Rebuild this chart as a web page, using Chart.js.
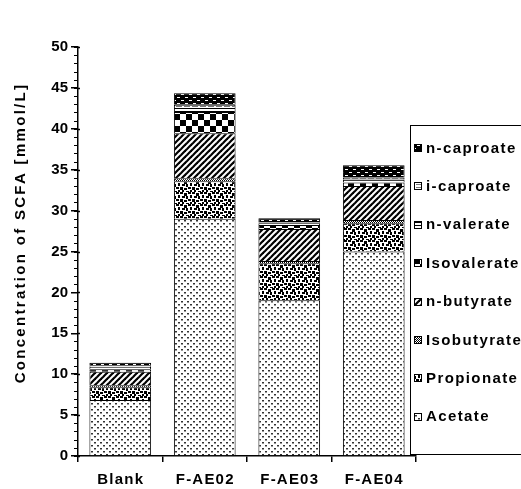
<!DOCTYPE html>
<html>
<head>
<meta charset="utf-8">
<script src="https://cdn.jsdelivr.net/npm/chart.js@4/dist/chart.umd.min.js"></script>
<style>
html,body{margin:0;padding:0;background:#fff;}
#wrap{width:521px;height:489px;position:relative;}
</style>
</head>
<body>
<div id="wrap"><canvas id="c" width="521" height="489"></canvas></div>
<script>
// ---- data ----
const categories = ['Blank', 'F-AE02', 'F-AE03', 'F-AE04'];
const acetate     = [6.85, 29.0, 19.05, 25.0];
const propionate  = [1.55, 4.6, 4.5, 3.45];
const isobutyrate = [0.25, 0.35, 0.3, 0.4];
const nButyrate   = [1.65, 5.5, 3.9, 4.15];
const isovalerate = [0.3, 2.6, 0.5, 0.45];
const nValerate   = [0.3, 0.5, 0.2, 0.35];
const iCaproate   = [0.2, 0.4, 0.1, 0.25];
const nCaproate   = [0.3, 1.4, 0.5, 1.5];
const seriesNames = ['Acetate', 'Propionate', 'Isobutyrate', 'n-butyrate', 'Isovalerate', 'n-valerate', 'i-caproate', 'n-caproate'];
const yTicks = [0, 5, 10, 15, 20, 25, 30, 35, 40, 45, 50];
const yTitle = 'Concentration of SCFA [mmol/L]';

// ---- patterns ----
function tile(w, h, draw) {
  const c = document.createElement('canvas');
  c.width = w; c.height = h;
  const g = c.getContext('2d');
  g.fillStyle = '#fff'; g.fillRect(0, 0, w, h);
  g.fillStyle = '#000'; g.strokeStyle = '#000';
  draw(g);
  return document.getElementById('c').getContext('2d').createPattern(c, 'repeat');
}
const pAcetate = tile(6, 6, g => { g.fillStyle = '#333'; g.fillRect(1, 1, 2, 1); g.fillRect(4, 4, 2, 1); g.fillStyle='#999'; g.fillRect(1,2,2,1); g.fillRect(4,5,2,1); });
const pPropionate = tile(12, 12, g => {
  [[0,0,3,2],[4,1,3,3],[8,0,3,2],[2,4,3,2],[6,4,2,3],[10,3,2,3],[0,7,3,3],[4,8,3,2],[8,7,3,2],[2,10,2,2],[6,11,3,1],[10,10,2,2]]
    .forEach(r => g.fillRect(r[0], r[1], r[2], r[3]));
});
const pIsobutyrate = tile(2, 2, g => { g.fillRect(0, 0, 1, 1); g.fillRect(1, 1, 1, 1); });
const pButyrate = tile(6, 6, g => {
  g.lineWidth = 2.2;
  [[-1, 7, 7, -1], [-1, 1, 1, -1], [5, 7, 7, 5]].forEach(l => { g.beginPath(); g.moveTo(l[0], l[1]); g.lineTo(l[2], l[3]); g.stroke(); });
});
const pIsovalerate = tile(12, 12, g => { g.fillRect(0, 0, 6, 6); g.fillRect(6, 6, 6, 6); });
const pValerate = tile(4, 3, g => { g.fillRect(0, 0, 4, 1); });
const pICaproate = tile(8, 3, g => { g.fillStyle = '#777'; g.fillRect(0, 1, 6, 1); });
const pNCaproate = tile(8, 6, g => { g.fillRect(0, 0, 8, 6); g.fillStyle = '#fff'; g.fillRect(1, 1, 3, 1); g.fillRect(5, 4, 3, 1); });

const seriesValues = [acetate, propionate, isobutyrate, nButyrate, isovalerate, nValerate, iCaproate, nCaproate];
const seriesPatterns = [pAcetate, pPropionate, pIsobutyrate, pButyrate, pIsovalerate, pValerate, pICaproate, pNCaproate];

const FONT = '"Liberation Sans", Arial, sans-serif';

const decor = {
  id: 'decor',
  afterDraw(chart) {
    const ctx = chart.ctx, ys = chart.scales.y, xs = chart.scales.x, a = chart.chartArea;
    ctx.save();
    // minor ticks
    ctx.strokeStyle = '#000'; ctx.lineWidth = 1;
    for (let v = ys.min; v <= ys.max; v += 1) {
      const py = Math.round(ys.getPixelForValue(v)) + 0.5;
      ctx.beginPath(); ctx.moveTo(a.left - 4, py); ctx.lineTo(a.left, py); ctx.stroke();
    }
    ctx.lineWidth = 1.5;
    yTicks.forEach(v => {
      const py = Math.round(ys.getPixelForValue(v)) + 0.5;
      ctx.beginPath(); ctx.moveTo(a.left, py); ctx.lineTo(a.left + 2, py); ctx.stroke();
    });
    // x labels
    ctx.fillStyle = '#000';
    ctx.font = 'bold 15px ' + FONT;
    ctx.letterSpacing = '1.2px';
    ctx.textAlign = 'center'; ctx.textBaseline = 'middle';
    categories.forEach((c, i) => ctx.fillText(c, xs.getPixelForValue(i) + 0.5, 480));
    // y title
    ctx.save();
    ctx.translate(21, 233);
    ctx.rotate(-Math.PI / 2);
    ctx.letterSpacing = '2.3px';
    ctx.fillText(yTitle, 0, 0);
    ctx.restore();
    // legend
    ctx.lineWidth = 1; ctx.strokeStyle = '#000';
    ctx.strokeRect(410.5, 125.5, 130, 329);
    ctx.textAlign = 'left';
    ctx.letterSpacing = '1.4px';
    const ds = chart.data.datasets;
    for (let k = 0; k < ds.length; k++) {
      const d = ds[ds.length - 1 - k];
      const cy = 148 + k * 38.4;
      ctx.fillStyle = d.backgroundColor;
      ctx.fillRect(414, Math.round(cy) - 4, 8, 8);
      ctx.strokeRect(414.5, Math.round(cy) - 3.5, 7, 7);
      ctx.fillStyle = '#000';
      ctx.fillText(d.label, 426, cy + 0.5);
    }
    ctx.restore();
  }
};

new Chart(document.getElementById('c'), {
  type: 'bar',
  data: {
    labels: categories,
    datasets: seriesNames.map((n, i) => ({
      label: n,
      data: seriesValues[i],
      backgroundColor: seriesPatterns[i],
      borderColor: '#000',
      borderWidth: 1,
      barPercentage: 0.73,
      categoryPercentage: 1.0
    }))
  },
  options: {
    responsive: false,
    animation: false,
    devicePixelRatio: 1,
    layout: { padding: { top: 47, right: 105, left: 0, bottom: 0 } },
    plugins: { legend: { display: false }, tooltip: { enabled: false }, title: { display: false } },
    scales: {
      x: {
        stacked: true,
        grid: { display: true, drawOnChartArea: false, drawTicks: true, tickLength: 6, color: '#000', lineWidth: 1.5, offset: true },
        border: { display: true, color: '#000', width: 1.5 },
        ticks: { display: false },
        afterFit: s => { s.height = 33; }
      },
      y: {
        stacked: true,
        min: 0, max: 50,
        grid: { display: true, drawOnChartArea: false, drawTicks: true, tickLength: 7, color: '#000', lineWidth: 1.5 },
        border: { display: true, color: '#000', width: 1.5 },
        ticks: { stepSize: 5, color: '#000', padding: 3, font: { family: FONT, size: 15, weight: 'bold' } },
        afterFit: s => { s.width = 78; }
      }
    }
  },
  plugins: [decor]
});
</script>
</body>
</html>
